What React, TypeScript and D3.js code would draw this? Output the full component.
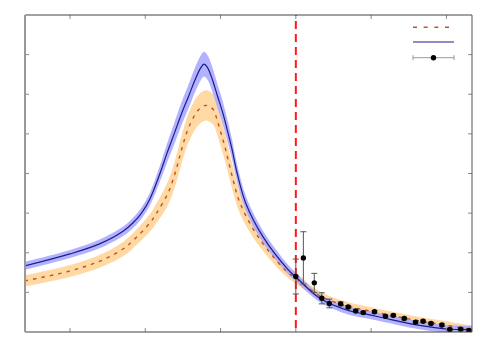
import React from 'react';
import * as d3 from 'd3';

// model curve, solid blue
const blueX = [0.28, 0.40, 0.48, 0.542, 0.567, 0.59, 0.612, 0.639, 0.658, 0.676, 0.698, 0.716, 0.732, 0.747, 0.756, 0.765, 0.778, 0.791, 0.805, 0.820, 0.831, 0.843, 0.867, 0.913, 0.98, 1.0, 1.064, 1.135, 1.197, 1.231, 1.321, 1.409, 1.468];
const blueY = [1.67, 1.97, 2.23, 2.55, 2.75, 3.0, 3.35, 4.0, 4.52, 4.98, 5.55, 5.97, 6.36, 6.66, 6.76, 6.68, 6.38, 5.98, 5.56, 5.02, 4.59, 4.05, 3.25, 2.40, 1.57, 1.39, 0.85, 0.555, 0.43, 0.36, 0.18, 0.07, 0.06];
const blueErr = [0.10, 0.10, 0.11, 0.12, 0.13, 0.14, 0.16, 0.2, 0.24, 0.27, 0.29, 0.3, 0.31, 0.31, 0.31, 0.31, 0.31, 0.3, 0.29, 0.27, 0.25, 0.22, 0.19, 0.15, 0.12, 0.11, 0.1, 0.1, 0.1, 0.1, 0.1, 0.1, 0.1];

// model curve, dashed orange
const orangeX = [0.28, 0.40, 0.48, 0.542, 0.567, 0.612, 0.630, 0.66, 0.679, 0.692, 0.704, 0.717, 0.741, 0.761, 0.78, 0.791, 0.80, 0.813, 0.829, 0.852, 0.90, 0.971, 1.0, 1.07, 1.14, 1.197, 1.30, 1.387, 1.468];
const orangeY = [1.29, 1.54, 1.79, 2.10, 2.30, 2.75, 3.0, 3.5, 4.0, 4.45, 4.85, 5.2, 5.6, 5.72, 5.62, 5.35, 5.06, 4.62, 4.0, 3.25, 2.40, 1.57, 1.35, 0.88, 0.65, 0.53, 0.33, 0.19, 0.06];
const orangeErr = [0.14, 0.15, 0.16, 0.18, 0.19, 0.22, 0.25, 0.3, 0.33, 0.35, 0.36, 0.37, 0.38, 0.38, 0.38, 0.37, 0.36, 0.35, 0.32, 0.27, 0.2, 0.14, 0.13, 0.11, 0.1, 0.1, 0.1, 0.1, 0.1];

// measured points
const dataX = [1.0, 1.020, 1.049, 1.069, 1.089, 1.119, 1.139, 1.159, 1.179, 1.209, 1.238, 1.259, 1.288, 1.318, 1.338, 1.359, 1.388, 1.409, 1.438, 1.460];
const dataY = [1.40, 1.87, 1.24, 0.85, 0.72, 0.71, 0.63, 0.53, 0.49, 0.51, 0.40, 0.42, 0.34, 0.25, 0.27, 0.215, 0.177, 0.063, 0.068, 0.038];
const dataErr = [0.44, 0.66, 0.24, 0.14, 0.11, 0.05, 0.04, 0.03, 0.03, 0.03, 0.03, 0.03, 0.03, 0.03, 0.03, 0.03, 0.03, 0.03, 0.03, 0.03];

const xTicks = [0.4, 0.6, 0.8, 1.0, 1.2, 1.4];
const yTicks = [1, 2, 3, 4, 5, 6, 7];
const threshold = 1.0;

const W = 500;
const H = 350;
const margin = { top: 15, right: 28, bottom: 18, left: 25 };

export default function App() {
  const iw = W - margin.left - margin.right;
  const ih = H - margin.top - margin.bottom;

  const x = d3.scaleLinear().domain([0.2805, 1.468]).range([0, iw]);
  const y = d3.scaleLinear().domain([0, 8]).range([ih, 0]);

  const blue = blueX.map((v, i) => ({ x: v, y: blueY[i], e: blueErr[i] }));
  const orange = orangeX.map((v, i) => ({ x: v, y: orangeY[i], e: orangeErr[i] }));
  const pts = dataX.map((v, i) => ({ x: v, y: dataY[i], e: dataErr[i] }));

  type P = { x: number; y: number; e: number };
  const curve = d3.curveCatmullRom.alpha(0.5);
  const line = d3.line<P>().x(d => x(d.x)).y(d => y(d.y)).curve(curve);
  const band = d3.area<P>()
    .x(d => x(d.x))
    .y0(d => y(d.y - d.e))
    .y1(d => y(d.y + d.e))
    .curve(curve);

  const tickCol = '#8a8a8a';
  const frameCol = '#444';

  return (
    <svg width={W} height={H} style={{ position: 'absolute', left: 0, top: 0, background: '#fff' }}>
      <defs>
        <clipPath id="plot">
          <rect x={0} y={0} width={iw} height={ih} />
        </clipPath>
      </defs>
      <g transform={`translate(${margin.left},${margin.top})`}>
        <g clipPath="url(#plot)">
          <path d={band(orange) ?? ''} fill="#ffd9a3" />
          <path d={band(blue) ?? ''} fill="#aaaaff" fillOpacity={0.9} />
          <path d={line(orange) ?? ''} fill="none" stroke="#c8501e" strokeWidth={1.4} strokeDasharray="3.5,5" />
          <path d={line(blue) ?? ''} fill="none" stroke="#1c1c8a" strokeWidth={1.2} />
          <line x1={x(threshold)} x2={x(threshold)} y1={0} y2={ih} stroke="#ff1a1a" strokeWidth={2} strokeDasharray="8,5" strokeDashoffset={-6} />
          {pts.map((d, i) => (
            <g key={i}>
              <line x1={x(d.x)} x2={x(d.x)} y1={y(d.y - d.e)} y2={y(d.y + d.e)} stroke="#555" strokeWidth={1} />
              <line x1={x(d.x) - 3} x2={x(d.x) + 3} y1={y(d.y - d.e)} y2={y(d.y - d.e)} stroke="#555" strokeWidth={1} />
              <line x1={x(d.x) - 3} x2={x(d.x) + 3} y1={y(d.y + d.e)} y2={y(d.y + d.e)} stroke="#555" strokeWidth={1} />
              <circle cx={x(d.x)} cy={y(d.y)} r={2.7} fill="#000" />
            </g>
          ))}
        </g>

        {/* ticks, pointing inwards on all four sides */}
        {xTicks.map(t => (
          <g key={'x' + t}>
            <line x1={x(t)} x2={x(t)} y1={ih} y2={ih - 4} stroke={tickCol} />
            <line x1={x(t)} x2={x(t)} y1={0} y2={4} stroke={tickCol} />
          </g>
        ))}
        {yTicks.map(t => (
          <g key={'y' + t}>
            <line x1={0} x2={4} y1={y(t)} y2={y(t)} stroke={tickCol} />
            <line x1={iw} x2={iw - 4} y1={y(t)} y2={y(t)} stroke={tickCol} />
          </g>
        ))}

        {/* frame */}
        <line x1={0} x2={iw} y1={0} y2={0} stroke={frameCol} strokeWidth={1} />
        <line x1={0} x2={iw} y1={ih} y2={ih} stroke={frameCol} strokeWidth={1.2} />
        <line x1={iw} x2={iw} y1={0} y2={ih} stroke="#555" strokeWidth={1} />
        <line x1={0} x2={0} y1={0} y2={ih} stroke="#999" strokeWidth={2} />

        {/* legend, symbols only */}
        <g transform={`translate(${iw - 59},0)`}>
          <line x1={0} x2={36} y1={12.3} y2={12.3} stroke="#c8501e" strokeWidth={1.4} strokeDasharray="4,6.67" />
          <line x1={0} x2={41} y1={27} y2={27} stroke="#1c1c8a" strokeWidth={1.2} />
          <line x1={0} x2={41} y1={42.7} y2={42.7} stroke="#999" strokeWidth={1} />
          <line x1={0} x2={0} y1={40.2} y2={45.2} stroke="#999" />
          <line x1={41} x2={41} y1={40.2} y2={45.2} stroke="#999" />
          <circle cx={20.5} cy={42.7} r={2.7} fill="#000" />
        </g>
      </g>
    </svg>
  );
}
